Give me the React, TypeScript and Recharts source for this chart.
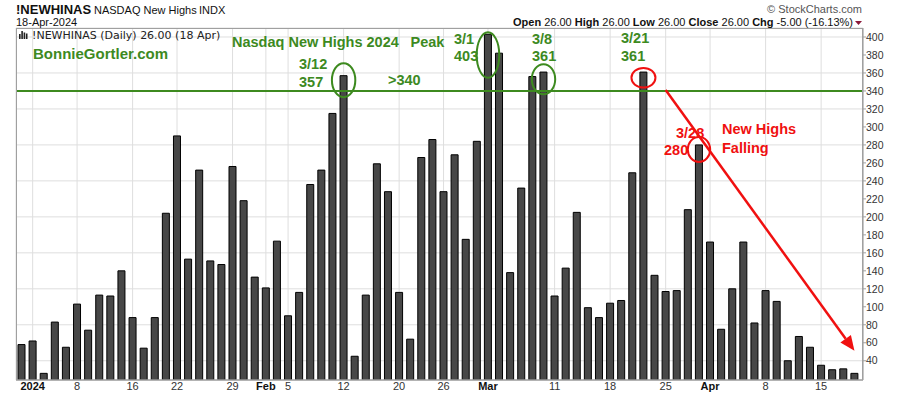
import { BarChart, Bar, XAxis, YAxis, CartesianGrid, ReferenceLine, ReferenceDot } from 'recharts';

const days = [
  'Dec 29',
  'Jan 2', 'Jan 3', 'Jan 4', 'Jan 5', 'Jan 8', 'Jan 9', 'Jan 10', 'Jan 11', 'Jan 12', 'Jan 16', 'Jan 17',
  'Jan 18', 'Jan 19', 'Jan 22', 'Jan 23', 'Jan 24', 'Jan 25', 'Jan 26', 'Jan 29', 'Jan 30', 'Jan 31',
  'Feb 1', 'Feb 2', 'Feb 5', 'Feb 6', 'Feb 7', 'Feb 8', 'Feb 9', 'Feb 12', 'Feb 13', 'Feb 14', 'Feb 15',
  'Feb 16', 'Feb 20', 'Feb 21', 'Feb 22', 'Feb 23', 'Feb 26', 'Feb 27', 'Feb 28', 'Feb 29',
  'Mar 1', 'Mar 4', 'Mar 5', 'Mar 6', 'Mar 7', 'Mar 8', 'Mar 11', 'Mar 12', 'Mar 13', 'Mar 14', 'Mar 15',
  'Mar 18', 'Mar 19', 'Mar 20', 'Mar 21', 'Mar 22', 'Mar 25', 'Mar 26', 'Mar 27', 'Mar 28',
  'Apr 1', 'Apr 2', 'Apr 3', 'Apr 4', 'Apr 5', 'Apr 8', 'Apr 9', 'Apr 10', 'Apr 11', 'Apr 12', 'Apr 15',
  'Apr 16', 'Apr 17', 'Apr 18',
];

const newHighs = [
  58,
  62, 26, 83, 55, 103, 74, 113, 112, 140, 88, 54, 88, 204, 290, 153, 252, 151, 147, 256, 218, 133,
  121, 173, 90, 116, 236, 252, 315, 357, 45, 113, 259, 228, 116, 64, 266, 286, 228, 269, 175, 284,
  403, 382, 138, 232, 356, 361, 112, 143, 205, 99, 88, 104, 107, 249, 361, 135, 117, 118, 208, 280,
  172, 75, 120, 172, 82, 118, 106, 40, 67, 55, 35, 30, 31, 26,
];

const tickDays = ['Jan 2', 'Jan 8', 'Jan 16', 'Jan 22', 'Jan 29', 'Feb 1', 'Feb 5', 'Feb 12', 'Feb 20', 'Feb 26', 'Mar 1', 'Mar 11', 'Mar 18', 'Mar 25', 'Apr 1', 'Apr 8', 'Apr 15'];
const tickLabels = ['2024', '8', '16', '22', '29', 'Feb', '5', '12', '20', '26', 'Mar', '11', '18', '25', 'Apr', '8', '15'];
const boldLabels = ['2024', 'Feb', 'Mar', 'Apr'];
const yTicks = [40, 60, 80, 100, 120, 140, 160, 180, 200, 220, 240, 260, 280, 300, 320, 340, 360, 380, 400];

const data = days.map((d, i) => ({ day: d, value: newHighs[i] }));

const GREEN = '#3d8a1f';
const RED = '#f01010';
const FONT = '"Liberation Sans", Arial, sans-serif';

// axis line sits at y=380, labels baseline ~390
const XTick = (props: any) => {
  const { x, payload } = props;
  const label = tickLabels[tickDays.indexOf(payload.value)] ?? '';
  const bold = boldLabels.includes(label);
  return (
    <text x={x} y={390} textAnchor="middle" fontFamily={FONT} fontSize={11}
      fontWeight={bold ? 'bold' : 'normal'} fill={bold ? '#111' : '#333'}>
      {label}
    </text>
  );
};

const ring = (rx: number, ry: number, color: string) => (p: any) => (
  <ellipse cx={p.cx} cy={p.cy} rx={rx} ry={ry} fill="none" stroke={color} strokeWidth={2} />
);

const Arrow = (p: any) => {
  const { x1, y1, x2, y2 } = p;
  const ang = Math.atan2(y2 - y1, x2 - x1);
  const len = 15;
  const half = 6.5;
  const bx = x2 - len * Math.cos(ang);
  const by = y2 - len * Math.sin(ang);
  const px = -Math.sin(ang) * half;
  const py = Math.cos(ang) * half;
  return (
    <g>
      <line x1={x1} y1={y1} x2={bx} y2={by} stroke={RED} strokeWidth={2.5} />
      <polygon points={`${x2},${y2} ${bx + px},${by + py} ${bx - px},${by - py}`} fill={RED} />
    </g>
  );
};

export default function App() {
  return (
    <div style={{ position: 'fixed', left: 0, top: 0, width: 900, height: 396, background: '#fff' }}>
      <BarChart width={900} height={396} data={data} margin={{ top: 28, right: 0, bottom: 0, left: 16 }}>
        <CartesianGrid stroke="#dedede" />
        <XAxis dataKey="day" ticks={tickDays} interval={0} height={16} tick={<XTick />}
          tickLine={false} axisLine={{ stroke: '#a0a0a0' }} padding={{ left: 0, right: 3 }} />
        <YAxis orientation="right" width={37} domain={[18.6, 410]} ticks={yTicks} allowDataOverflow
          tickSize={3} tickMargin={0} tickLine={{ stroke: '#a0a0a0' }} axisLine={{ stroke: '#a0a0a0' }}
          tick={{ fontSize: 10.5, fill: '#333', fontFamily: FONT }} />
        <Bar dataKey="value" fill="#474747" stroke="#000" strokeWidth={1} barSize={7} isAnimationActive={false} />
        <ReferenceLine y={340} stroke={GREEN} strokeWidth={2} />
        <ReferenceLine segment={[{ x: 'Mar 25', y: 341 }, { x: 'Apr 18', y: 51 }]} shape={Arrow} />
        <ReferenceDot x="Feb 12" y={352} shape={ring(11.7, 17, GREEN)} />
        <ReferenceDot x="Mar 1" y={380} shape={ring(11.3, 22.8, GREEN)} />
        <ReferenceDot x="Mar 8" y={353} shape={ring(11.7, 15, GREEN)} />
        <ReferenceDot x="Mar 21" y={354.7} shape={ring(12, 9.8, RED)} />
        <ReferenceDot x="Mar 28" y={275} shape={ring(11.2, 12.5, RED)} />
      </BarChart>
      <svg width={900} height={396} style={{ position: 'absolute', left: 0, top: 0, pointerEvents: 'none' }}>
        <rect x={16.5} y={28.5} width={846} height={351.5} fill="none" stroke="#a0a0a0" />
        <text x={16} y={14} fontFamily={FONT} fontSize={13} fontWeight="bold" fill="#111">!NEWHINAS</text>
        <text x={94} y={14} fontFamily={FONT} fontSize={11} fill="#111">NASDAQ New Highs</text>
        <text x={199} y={14} fontFamily={FONT} fontSize={11} fill="#111">INDX</text>
        <text x={16} y={26} fontFamily={FONT} fontSize={11} fill="#111">18-Apr-2024</text>
        <text x={862} y={13} textAnchor="end" fontFamily={FONT} fontSize={11} fill="#555">© StockCharts.com</text>
        <text x={853} y={26} textAnchor="end" fontFamily={FONT} fontSize={11} fill="#111">
          <tspan fontWeight="bold">Open</tspan> 26.00 <tspan fontWeight="bold">High</tspan> 26.00{' '}
          <tspan fontWeight="bold">Low</tspan> 26.00 <tspan fontWeight="bold">Close</tspan> 26.00{' '}
          <tspan fontWeight="bold">Chg</tspan> -5.00 (-16.13%)
        </text>
        <polygon points="855,21 862,21 858.5,25" fill="#8b1a3a" />

        <g fill="#222">
          <rect x={19} y={34} width={1.6} height={5} />
          <rect x={21.3} y={31} width={1.6} height={8} />
          <rect x={23.6} y={32.5} width={1.6} height={6.5} />
          <rect x={25.9} y={33.5} width={1.6} height={5.5} />
        </g>
        <text x={32} y={39} fontFamily='"DejaVu Sans", sans-serif' fontSize={11} fill="#222">!NEWHINAS (Daily) 26.00 (18 Apr)</text>

        <g fontFamily={FONT} fontWeight="bold" fill={GREEN} fontSize={14.5}>
          <text x={33} y={59} fontSize={15}>BonnieGortler.com</text>
          <text x={232} y={46.5}>Nasdaq New Highs 2024</text>
          <text x={410.5} y={47}>Peak</text>
          <text x={299} y={69}>3/12</text>
          <text x={299} y={87}>357</text>
          <text x={388} y={85}>&gt;340</text>
          <text x={454} y={43.5}>3/1</text>
          <text x={454} y={61}>403</text>
          <text x={532} y={43.5}>3/8</text>
          <text x={532} y={61}>361</text>
          <text x={621} y={43}>3/21</text>
          <text x={621} y={60.5}>361</text>
        </g>
        <g fontFamily={FONT} fontWeight="bold" fill={RED} fontSize={14.5}>
          <text x={676} y={138}>3/28</text>
          <text x={664} y={155}>280</text>
          <text x={722} y={134}>New Highs</text>
          <text x={722} y={152.5}>Falling</text>
        </g>
      </svg>
    </div>
  );
}
